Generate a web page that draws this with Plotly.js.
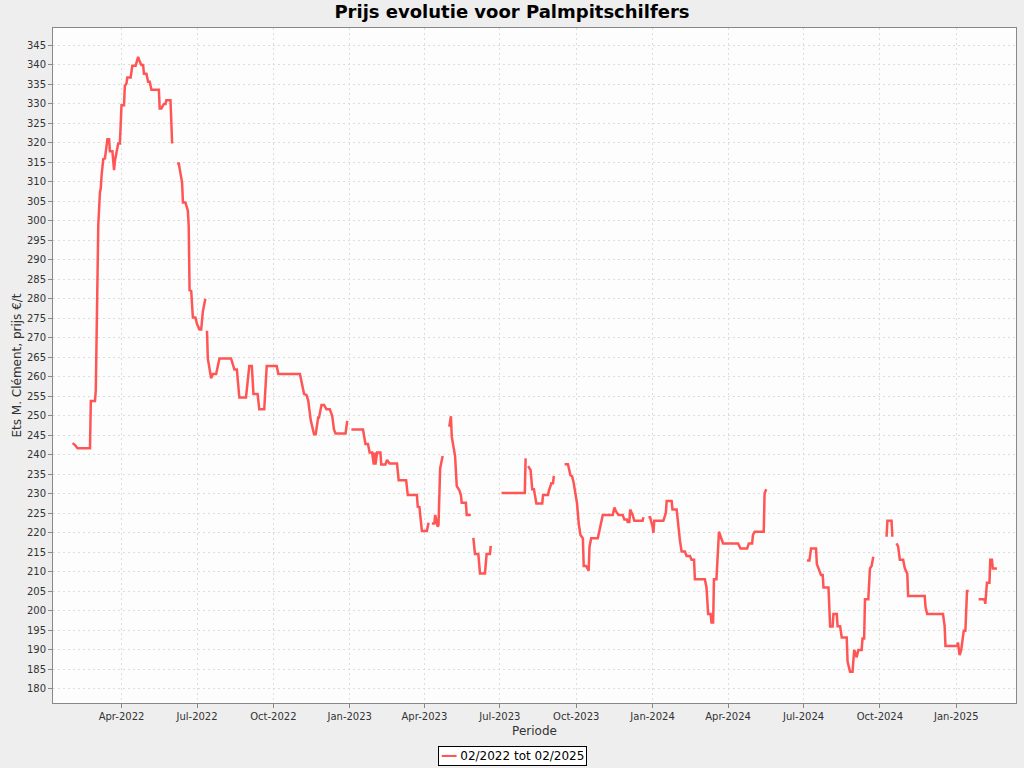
<!DOCTYPE html>
<html>
<head>
<meta charset="utf-8">
<script src="https://cdn.plot.ly/plotly-3.0.1.min.js"></script>
<style>html,body{margin:0;padding:0;background:#EEEEEE;}#chart{width:1024px;height:768px;}</style>
</head>
<body>
<div id="chart"></div>
<script>
const chartTitle = 'Prijs evolutie voor Palmpitschilfers';
const seriesName = '02/2022 tot 02/2025';
const xTitle = 'Periode';
const yTitle = 'Ets M. Clément, prijs €/t';
const lineColor = '#FF5555';

const dates = [
'2022-02-01','2022-02-04','2022-02-07','2022-02-22','2022-02-23','2022-02-28','2022-03-01','2022-03-02','2022-03-03','2022-03-04',
'2022-03-06','2022-03-07','2022-03-08','2022-03-10','2022-03-12','2022-03-15','2022-03-17','2022-03-18','2022-03-21','2022-03-23',
'2022-03-24','2022-03-28','2022-03-30','2022-04-01','2022-04-04','2022-04-05','2022-04-07','2022-04-08','2022-04-12','2022-04-14',
'2022-04-18','2022-04-21','2022-04-23','2022-04-25','2022-04-27','2022-04-28','2022-05-01','2022-05-03','2022-05-05','2022-05-07',
'2022-05-16','2022-05-17','2022-05-19','2022-05-22','2022-05-24','2022-05-25','2022-05-30','2022-06-01','2022-06-04',
'2022-06-07','2022-06-09','2022-06-13','2022-06-14','2022-06-17','2022-06-20','2022-06-21','2022-06-22','2022-06-24','2022-06-26',
'2022-06-29','2022-07-01','2022-07-04','2022-07-06','2022-07-08','2022-07-11','2022-07-12',
'2022-07-13','2022-07-14','2022-07-18','2022-07-20','2022-07-24','2022-07-28','2022-08-11','2022-08-15','2022-08-18','2022-08-21',
'2022-08-29','2022-09-02','2022-09-05','2022-09-07','2022-09-12','2022-09-14','2022-09-20','2022-09-23','2022-10-05','2022-10-07',
'2022-11-02','2022-11-07','2022-11-10','2022-11-12','2022-11-15','2022-11-19','2022-11-21','2022-11-24','2022-11-25','2022-11-28',
'2022-12-01','2022-12-04','2022-12-08','2022-12-11','2022-12-13','2022-12-15','2022-12-27','2022-12-29','2022-12-31',
'2023-01-03','2023-01-17','2023-01-20','2023-01-23','2023-01-25','2023-01-28','2023-01-30','2023-01-31','2023-02-01','2023-02-03',
'2023-02-07','2023-02-08','2023-02-13','2023-02-15','2023-02-18','2023-02-27','2023-03-01','2023-03-10','2023-03-12','2023-03-23',
'2023-03-24','2023-03-26','2023-03-29','2023-04-04','2023-04-06','2023-04-08',
'2023-04-10','2023-04-13','2023-04-14','2023-04-17','2023-04-18','2023-04-20','2023-04-23','2023-04-27',
'2023-05-01','2023-05-03','2023-05-04','2023-05-08','2023-05-10','2023-05-13','2023-05-15','2023-05-16','2023-05-21','2023-05-22',
'2023-05-27','2023-05-28',
'2023-05-30','2023-06-01','2023-06-05','2023-06-07','2023-06-13','2023-06-15','2023-06-19','2023-06-20','2023-06-25',
'2023-07-03','2023-07-31','2023-08-01','2023-08-02',
'2023-08-04','2023-08-07','2023-08-09','2023-08-11','2023-08-14','2023-08-21','2023-08-22','2023-08-28','2023-08-29','2023-09-01',
'2023-09-03','2023-09-04','2023-09-10',
'2023-09-17','2023-09-21','2023-09-24','2023-09-26','2023-09-28','2023-09-30','2023-10-02','2023-10-04','2023-10-06','2023-10-09',
'2023-10-10','2023-10-13','2023-10-16','2023-10-17','2023-10-19','2023-10-27','2023-10-30','2023-11-02','2023-11-14','2023-11-16',
'2023-11-18','2023-11-21','2023-11-26','2023-11-28','2023-12-01','2023-12-02','2023-12-04','2023-12-05','2023-12-08','2023-12-10',
'2023-12-20','2023-12-21','2023-12-24',
'2023-12-27','2023-12-29','2024-01-01','2024-01-02','2024-01-03','2024-01-14','2024-01-17','2024-01-18','2024-01-24','2024-01-25',
'2024-01-30','2024-02-01','2024-02-03','2024-02-05','2024-02-09','2024-02-11','2024-02-15','2024-02-17','2024-02-20','2024-02-21',
'2024-03-04','2024-03-06','2024-03-08','2024-03-11','2024-03-12','2024-03-14','2024-03-15','2024-03-18','2024-03-21','2024-03-26',
'2024-04-13','2024-04-16','2024-04-24','2024-04-26','2024-04-30','2024-05-01','2024-05-03','2024-05-14','2024-05-15','2024-05-17',
'2024-06-10',
'2024-07-05','2024-07-08','2024-07-10','2024-07-16','2024-07-17','2024-07-19','2024-07-22','2024-07-24','2024-07-25','2024-07-31',
'2024-08-02','2024-08-05','2024-08-06','2024-08-10','2024-08-11','2024-08-14','2024-08-16','2024-08-22','2024-08-23','2024-08-26',
'2024-08-29','2024-08-31','2024-09-03','2024-09-05','2024-09-09','2024-09-10','2024-09-12','2024-09-13','2024-09-17','2024-09-19',
'2024-09-21','2024-09-23','2024-10-01',
'2024-10-09','2024-10-10','2024-10-15','2024-10-16','2024-10-18',
'2024-10-21','2024-10-23','2024-10-25','2024-10-29','2024-10-31','2024-11-03','2024-11-04','2024-11-24','2024-11-25','2024-11-27',
'2024-12-16','2024-12-18','2024-12-19','2025-01-02','2025-01-03','2025-01-05','2025-01-07','2025-01-10','2025-01-12','2025-01-14',
'2025-01-16','2025-01-22',
'2025-01-28','2025-02-04','2025-02-05','2025-02-06','2025-02-07','2025-02-10','2025-02-11','2025-02-13','2025-02-14','2025-02-19'
];

const prices = [
243,242.5,241.7,241.7,253.8,253.8,256.6,268.6,278.9,298.9,
307.4,308.3,311.7,315.8,316,320.9,320.9,317.8,317.8,313,
315.3,319.8,319.8,329.6,329.6,334.5,335.2,336.7,336.7,339.7,
339.7,342,340.8,339.9,339.9,337.7,337.7,335.6,335.6,333.6,
333.6,328.8,328.8,329.9,329.9,330.9,330.9,319.8,null,
314.7,314.7,309.7,304.7,304.7,302.5,298.5,282.2,282,275.2,
275.2,273.5,272.1,272.1,276.7,280,null,
271.8,264.7,259.6,260.7,260.7,264.7,264.7,261.9,261.9,254.7,
254.7,262.8,262.8,255.6,255.6,251.7,251.7,262.8,262.8,260.7,
260.7,255.6,255.3,253.9,248.9,245.3,245.3,249.6,249.6,252.8,
252.8,251.7,251.7,249.9,246.5,245.5,245.5,248.7,null,
246.5,246.5,242.8,242.8,240.6,240.6,237.5,240.6,237.5,240.6,
240.6,237.5,237.5,238.7,237.8,237.8,233.5,233.5,229.7,229.7,
226.7,226.6,220.5,220.5,222.6,null,
222.4,222.4,224.6,221.6,222,236.5,239.7,null,
247.2,249.9,244.6,239.7,232,231,229.7,227.7,227.7,224.6,
224.6,null,
218.7,214.6,214.6,209.6,209.6,214.6,214.6,216.7,null,
230.2,230.2,239.1,null,
237.1,236.1,231.2,231.2,227.5,227.5,229.7,229.7,230.8,232.7,
232.7,234.6,null,
237.6,237.6,234.8,234.5,232.7,230.5,227.5,222.4,219.5,218.6,
211.5,211.5,210.3,216.4,218.6,218.6,221.6,224.6,224.6,226.5,
225.5,224.6,224.6,223.4,223.4,222.8,222.8,226,224.6,223.1,
223.1,224,null,
224,224,221.6,220,223.1,223.1,225.1,228.2,228.2,226,
226,221.1,218,215.2,215.2,214.1,214.1,213.1,213.1,208.1,
208.1,206,199.2,199.2,197,197,208.1,208.1,220.3,217.3,
217.3,216,216,217.3,217.3,219.5,220.3,220.3,230.1,231.2,
null,
212.9,212.9,216,216,212,211,209.2,209.2,206,206,
196,196,199.2,199.2,196.1,196.1,193.2,193.2,187,184.4,
184.4,190,188.1,190,190,192.9,192.9,203,203,210.9,
211.5,213.9,null,
219,223.1,223.1,219,null,
217.3,216.5,213.1,213.1,210.9,209.5,203.8,203.8,200.9,199.2,
199.2,196.1,191,191,191.9,188.7,190,194.9,194.9,205.1,
205.1,null,
203,203,201.8,204.9,207.2,207.2,213.1,213.1,210.9,210.9
];

const trace = {
  x: dates,
  y: prices,
  type: 'scatter',
  mode: 'lines',
  name: seriesName,
  connectgaps: false,
  showlegend: false,
  line: {color: lineColor, width: 2.5},
  hoverinfo: 'skip'
};

const gridStyle = {gridcolor: '#DDDDDD', griddash: '2px,3px', gridwidth: 1};
const font = 'DejaVu Sans, Liberation Sans, sans-serif';

const layout = {
  width: 1024, height: 768,
  paper_bgcolor: '#EEEEEE',
  plot_bgcolor: '#FDFDFD',
  margin: {l: 53, r: 8, t: 28, b: 65},
  font: {family: font, color: '#333'},
  showlegend: false,
  title: {
    text: '<b>' + chartTitle + '</b>',
    font: {family: font, size: 18, color: '#000'},
    x: 0.5, xref: 'container', xanchor: 'center',
    y: 1 - 12/768, yref: 'container', yanchor: 'middle'
  },
  xaxis: Object.assign({
    type: 'date',
    range: ['2022-01-08 10:00', '2025-03-14'],
    tick0: '2022-01-01', dtick: 'M3', tickformat: '%b-%Y',
    ticks: 'outside', ticklen: 4, tickcolor: '#888',
    tickfont: {family: font, size: 10, color: '#333'},
    showline: true, linecolor: '#888', linewidth: 1, mirror: true,
    zeroline: false, automargin: false,
    title: {text: xTitle, font: {family: font, size: 12, color: '#333'}, standoff: 5}
  }, gridStyle),
  yaxis: Object.assign({
    range: [176.4, 349.4],
    tick0: 180, dtick: 5,
    ticks: 'outside', ticklen: 4, tickcolor: '#888',
    tickfont: {family: font, size: 10, color: '#333'},
    showline: true, linecolor: '#888', linewidth: 1, mirror: true,
    zeroline: false, automargin: false,
    title: {text: yTitle, font: {family: font, size: 12, color: '#333'}, standoff: 2}
  }, gridStyle),
  annotations: [{
    xref: 'paper', yref: 'paper',
    x: (512 - 53) / 963, xanchor: 'center',
    y: (703 - 755.5) / 675, yanchor: 'middle',
    showarrow: false,
    text: '<span style="color:' + lineColor + '"><b>━━</b></span> ' + seriesName,
    font: {family: font, size: 12, color: '#000'},
    bgcolor: '#FFFFFF', bordercolor: '#000000', borderwidth: 1, borderpad: 2
  }]
};

Plotly.newPlot('chart', [trace], layout, {displayModeBar: false, staticPlot: true});
</script>
</body>
</html>
